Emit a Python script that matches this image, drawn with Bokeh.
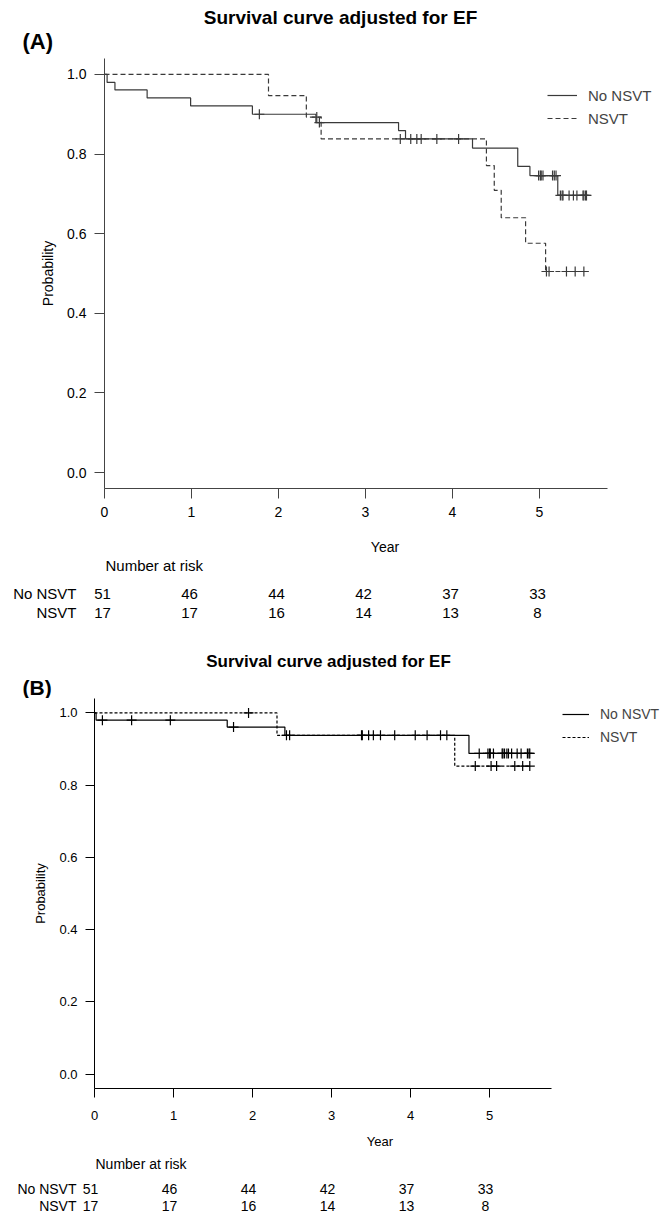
import numpy as np
from bokeh.plotting import figure
from bokeh.models import (Range1d, FixedTicker, NumeralTickFormatter, Legend, LegendItem)
from bokeh.embed import file_html
from bokeh.resources import INLINE
from bokeh.core.properties import value

FONT = "Liberation Sans"
PAGE_W = 665

title_text = "Survival curve adjusted for EF"
group_labels = ["No NSVT", "NSVT"]
risk_years = [0, 1, 2, 3, 4, 5]
y_ticks = [0.0, 0.2, 0.4, 0.6, 0.8, 1.0]

# ---------------- Panel A data ----------------
a_no_event_t = [0.03, 0.12, 0.49, 0.99, 1.70, 2.43, 3.38, 3.46, 4.23, 4.75, 4.89, 5.21]
a_no_event_s = [0.980, 0.961, 0.941, 0.921, 0.900, 0.879, 0.859, 0.838, 0.815, 0.769, 0.746, 0.696]
a_no_cens_t = [1.78, 2.47, 3.52, 3.59, 3.64, 3.82, 4.07, 4.99, 5.01, 5.02, 5.04, 5.15,
               5.17, 5.19, 5.24, 5.26, 5.27, 5.34, 5.39, 5.43, 5.50, 5.51, 5.53, 5.54]
a_ns_event_t = [1.885, 2.32, 2.49, 4.39, 4.48, 4.56, 4.84, 5.07]
a_ns_event_s = [0.947, 0.893, 0.838, 0.771, 0.709, 0.640, 0.576, 0.505]
a_ns_cens_t = [2.44, 3.40, 5.08, 5.11, 5.31, 5.41, 5.51]
a_risk_no = [51, 46, 44, 42, 37, 33]
a_risk_ns = [17, 17, 16, 14, 13, 8]

# ---------------- Panel B data ----------------
b_no_event_t = [0.02, 1.68, 2.41, 4.74]
b_no_event_s = [0.980, 0.961, 0.938, 0.888]
b_no_cens_t = [0.10, 0.47, 0.96, 1.76, 2.43, 2.47, 3.38, 3.39, 3.47, 3.53, 3.62, 3.80,
               4.06, 4.21, 4.38, 4.46, 4.87, 4.98, 5.00, 5.01, 5.05, 5.16, 5.17, 5.19,
               5.22, 5.24, 5.28, 5.35, 5.40, 5.48, 5.50, 5.51]
b_ns_event_t = [2.31, 4.56]
b_ns_event_s = [0.938, 0.853]
b_ns_cens_t = [1.95, 4.82, 5.02, 5.09, 5.32, 5.42, 5.51]
b_risk_no = [51, 46, 44, 42, 37, 33]
b_risk_ns = [17, 17, 16, 14, 13, 8]


def surv_at(t, times, surv):
    s = 1.0
    for ti, si in zip(times, surv):
        if t >= ti:
            s = si
    return s


def blank_fig(height, xr, yr):
    p = figure(width=PAGE_W, height=height, x_range=xr, y_range=yr,
               x_axis_type=None, y_axis_type=None, output_backend="svg",
               toolbar_location=None, min_border=0, outline_line_color=None)
    p.grid.visible = False
    return p


def header_fig(height, label, title_x, title_y, label_x, label_y, title_size, label_size):
    p = blank_fig(height, Range1d(0, PAGE_W), Range1d(height, 0))
    p.text(x=[title_x], y=[title_y], text=[title_text], text_font=value(FONT),
           text_font_style="bold", text_font_size=title_size, text_align="center",
           text_baseline="middle", text_color="black")
    p.text(x=[label_x], y=[label_y], text=[label], text_font=value(FONT),
           text_font_style="bold", text_font_size=label_size, text_align="left",
           text_baseline="middle", text_color="black")
    return p


def km_fig(cfg):
    left = cfg["left"]
    pxyr = cfg["pxyr"]
    x_end = (PAGE_W - left) / pxyr
    p = figure(width=PAGE_W, height=cfg["frame_h"] + cfg["bottom"],
               x_range=Range1d(0, x_end), y_range=Range1d(-0.04, 1.04),
               min_border_left=left, min_border_right=0, min_border_top=0,
               min_border_bottom=cfg["bottom"], output_backend="svg",
               toolbar_location=None, outline_line_color=None)
    p.grid.visible = False
    col = cfg["line_color"]
    fs = cfg["font_size"]
    rends = []
    for ev_t, ev_s, cens, dash in [(cfg["no_t"], cfg["no_s"], cfg["no_c"], "solid"),
                                   (cfg["ns_t"], cfg["ns_s"], cfg["ns_c"], cfg["dash"])]:
        end_t = max(cens[-1], ev_t[-1])
        xs = [0.0] + list(ev_t) + [end_t]
        ys = [1.0] + list(ev_s) + [ev_s[-1]]
        r = p.step(xs, ys, mode="after", line_color=col, line_width=cfg["lw"],
                   line_dash=dash)
        cy = [surv_at(t, ev_t, ev_s) for t in cens]
        p.scatter(cens, cy, marker="cross", size=cfg["cross"], line_color=col,
                  line_width=cfg["lw"])
        rends.append(r)

    ax = p.xaxis[0]
    ax.ticker = FixedTicker(ticks=risk_years)
    ax.bounds = (0, 5.78)
    ax.axis_label = "Year"
    ay = p.yaxis[0]
    ay.ticker = FixedTicker(ticks=y_ticks)
    ay.formatter = NumeralTickFormatter(format="0.0")
    ay.axis_label = "Probability"
    for a in (ax, ay):
        a.axis_line_color = cfg["axis_color"]
        a.major_tick_line_color = cfg["axis_color"]
        a.major_tick_out = cfg["tick_out"]
        a.major_tick_in = 0
        a.minor_tick_line_color = None
        a.major_label_text_font = FONT
        a.major_label_text_font_size = fs
        a.major_label_text_color = "black"
        a.axis_label_text_font = FONT
        a.axis_label_text_font_size = fs
        a.axis_label_text_font_style = "normal"
        a.axis_label_text_color = "black"
    ax.major_label_standoff = cfg["xstand"]
    ax.axis_label_standoff = cfg["xlab_stand"]
    ay.major_label_standoff = 8
    ay.axis_label_standoff = cfg["ylab_stand"]

    legend = Legend(items=[LegendItem(label=group_labels[0], renderers=[rends[0]]),
                           LegendItem(label=group_labels[1], renderers=[rends[1]])],
                    location=cfg["leg_loc"], border_line_color=None,
                    background_fill_alpha=0, padding=0, margin=0,
                    spacing=cfg["leg_spacing"], glyph_width=cfg["leg_gw"], glyph_height=20,
                    label_height=20, label_standoff=cfg["leg_standoff"],
                    label_text_font=FONT, label_text_font_size=cfg["leg_fs"])
    p.add_layout(legend)
    return p


def risk_fig(height, x0_px, pxyr, y_title, y_rows, r_no, r_ns, fs, val_shift, lab_off):
    start = -x0_px / pxyr
    p = blank_fig(height, Range1d(start, start + PAGE_W / pxyr), Range1d(height, 0))
    p.text(x=[0], y=[y_title], text=["Number at risk"], text_font=value(FONT),
           text_font_size=fs, text_align="left", text_baseline="middle",
           x_offset=1, text_color="black")
    for yy, lab, vals in [(y_rows[0], group_labels[0], r_no), (y_rows[1], group_labels[1], r_ns)]:
        p.text(x=[0], y=[yy], text=[lab], text_font=value(FONT), text_font_size=fs,
               text_align="right", text_baseline="middle", x_offset=lab_off,
               text_color="black")
        p.text(x=risk_years, y=[yy] * len(risk_years), text=[str(v) for v in vals],
               text_font=value(FONT), text_font_size=fs, text_align="center",
               text_baseline="middle", x_offset=val_shift, text_color="black")
    return p


cfg_a = dict(left=104, pxyr=87.0, frame_h=432, bottom=67, line_color="#3a3a3a",
             axis_color="#444444", lw=1.2, dash="5 3", cross=10, font_size="14px",
             tick_out=10, xstand=8, xlab_stand=19, ylab_stand=8,
             leg_loc=(443, 360), leg_spacing=3, leg_standoff=11, leg_gw=30, leg_fs="15px",
             no_t=a_no_event_t, no_s=a_no_event_s, no_c=a_no_cens_t,
             ns_t=a_ns_event_t, ns_s=a_ns_event_s, ns_c=a_ns_cens_t)
cfg_b = dict(left=94, pxyr=79.0, frame_h=390, bottom=65, line_color="black",
             axis_color="black", lw=1.2, dash="3 2", cross=10, font_size="13px",
             tick_out=9, xstand=13, xlab_stand=11, ylab_stand=8,
             leg_loc=(468, 341), leg_spacing=3, leg_standoff=11, leg_gw=27, leg_fs="14px",
             no_t=b_no_event_t, no_s=b_no_event_s, no_c=b_no_cens_t,
             ns_t=b_ns_event_t, ns_s=b_ns_event_s, ns_c=b_ns_cens_t)

a_head = header_fig(58, "(A)", 340, 17, 22, 41, "19px", "22px")
a_main = km_fig(cfg_a)
a_risk = risk_fig(66, 104.0, 87.0, 8, [36, 55], a_risk_no, a_risk_ns, "15px", -2, -28)
b_head = header_fig(75, "(B)", 328, 38, 22, 64, "17px", "21px")
b_main = km_fig(cfg_b)
b_risk = risk_fig(62, 94.0, 79.0, 10, [35, 52], b_risk_no, b_risk_ns, "14px", -4, -18)

roots = [a_head, a_main, a_risk, b_head, b_main, b_risk]
open("out.html", "w").write(file_html(roots, INLINE))
